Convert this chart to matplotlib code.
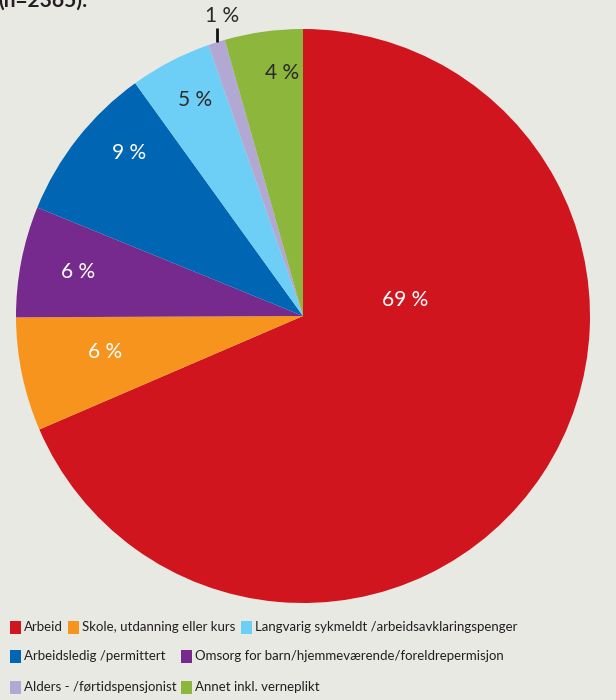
import matplotlib
matplotlib.use("Agg")
import matplotlib.pyplot as plt
import numpy as np
from matplotlib.patches import Rectangle

# ---- data ----
categories = ["Arbeid", "Skole, utdanning eller kurs", "Omsorg for barn/hjemmeværende/foreldrepermisjon",
              "Arbeidsledig /permittert", "Langvarig sykmeldt /arbeidsavklaringspenger",
              "Alders - /førtidspensjonist", "Annet inkl. verneplikt"]
values = [68.6, 6.4, 6.25, 8.9, 4.6, 0.95, 4.4]
colors = ["#D0151E", "#F7941D", "#772A8E", "#0066B3", "#6DCFF6", "#B1A9D4", "#8DB63C"]
label_colors = ["white", "white", "white", "white", "#2b2b2b", "#2b2b2b", "#2b2b2b"]
legend_order = [0, 1, 4, 3, 2, 5, 6]
title_fragment = "(n=2365):"

# ---- layout ----
W, H = 616, 700
BG = "#E9E9E3"
fig = plt.figure(figsize=(W / 100, H / 100), dpi=100, facecolor=BG)
cx, cy, R = 303, 316, 287
ax = fig.add_axes([(cx - R) / W, (H - cy - R) / H, 2 * R / W, 2 * R / H])
ax.set_facecolor(BG)
ax.axis("off")

wedges, _ = ax.pie(values, colors=colors, startangle=90, counterclock=False, radius=1,
                   wedgeprops=dict(linewidth=0))
ax.set_xlim(-1, 1)
ax.set_ylim(-1, 1)
ax.set_aspect("equal")

lab_r = [0.36, 0.70, 0.80, 0.83, 0.84, None, 0.85]
lab_off = [42.5, -1.5, 0.0, -5.0, -1.0, 0.0, -3.0]
font = ["Lato", "DejaVu Sans"]
for i, w in enumerate(wedges):
    mid = (w.theta1 + w.theta2) / 2
    txt = f"{round(values[i])} %"
    if lab_r[i] is None:
        m = np.deg2rad(mid)
        x0, y0 = np.cos(m), np.sin(m)
        ax.plot([x0, x0], [y0, 1.003], color="#111111", lw=2, clip_on=False,
                solid_capstyle="butt")
        ax.text(x0 + 0.02, 1.045, txt, ha="center", va="center", fontsize=15,
                color=label_colors[i], family=font)
    else:
        a = np.deg2rad(mid + lab_off[i])
        ax.text(lab_r[i] * np.cos(a), lab_r[i] * np.sin(a), txt, ha="center", va="center",
                fontsize=15, color=label_colors[i], family=font)

# cut-off title at top (cut off in the reference as well)
fig.text(-2 / W, 1 - 7 / H, title_fragment, fontsize=15, fontweight="bold",
         color="#231F20", family=font, va="baseline", ha="left")

# ---- legend (manual) ----
rows = [(627, [10, 68, 241]), (656, [10, 181]), (687, [10, 181])]
slots = [(r[0], x) for r in rows for x in r[1]]
for idx, (yc, x) in zip(legend_order, slots):
    fig.patches.append(Rectangle((x / W, (H - yc - 7) / H), 11 / W, 13 / H,
                                 transform=fig.transFigure, facecolor=colors[idx],
                                 edgecolor="none"))
    fig.text((x + 14) / W, 1 - yc / H, categories[idx], fontsize=9.5, color="#231F20",
             family=font, va="center", ha="left")

fig.savefig("out.png", dpi=100, facecolor=BG)
